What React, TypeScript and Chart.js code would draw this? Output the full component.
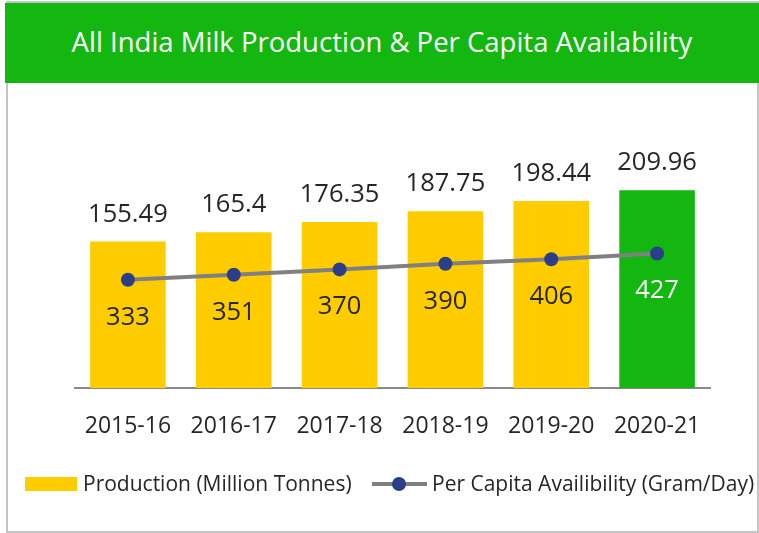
import React, { useEffect, useRef } from "react";
import { Chart, registerables } from "chart.js";

Chart.register(...registerables);

const categories = ["2015-16", "2016-17", "2017-18", "2018-19", "2019-20", "2020-21"];
const production = [155.49, 165.4, 176.35, 187.75, 198.44, 209.96];
const perCapita = [333, 351, 370, 390, 406, 427];
const barColors = ["#ffcc00", "#ffcc00", "#ffcc00", "#ffcc00", "#ffcc00", "#13b710"];
const perCapitaLabelColors = ["#262626", "#262626", "#262626", "#262626", "#262626", "#ffffff"];

const TITLE = "All India Milk Production & Per Capita Availability";
const LEGEND_BAR = "Production (Million Tonnes)";
const LEGEND_LINE = "Per Capita Availibility (Gram/Day)";

const FONT = "'Open Sans', 'Noto Sans', sans-serif";

const labelPlugin = {
  id: "valueLabels",
  afterDatasetsDraw(chart: any) {
    const ctx = chart.ctx;
    ctx.save();
    ctx.textAlign = "center";
    ctx.textBaseline = "alphabetic";
    ctx.font = `25.5px ${FONT}`;
    const barMeta = chart.getDatasetMeta(0);
    barMeta.data.forEach((el: any, i: number) => {
      ctx.fillStyle = "#262626";
      ctx.fillText(String(production[i]), el.x, el.y - 20);
    });
    const lineMeta = chart.getDatasetMeta(1);
    lineMeta.data.forEach((el: any, i: number) => {
      ctx.fillStyle = perCapitaLabelColors[i];
      ctx.fillText(String(perCapita[i]), el.x, el.y + 45);
    });
    ctx.restore();
  },
};

export default function App() {
  const ref = useRef<HTMLCanvasElement | null>(null);

  useEffect(() => {
    if (!ref.current) return;
    const chart = new Chart(ref.current, {
      type: "bar",
      data: {
        labels: categories,
        datasets: [
          {
            type: "bar",
            label: LEGEND_BAR,
            data: production,
            backgroundColor: barColors,
            borderWidth: 0,
            barPercentage: 0.714,
            categoryPercentage: 1,
            yAxisID: "y",
            order: 2,
          },
          {
            type: "line",
            label: LEGEND_LINE,
            data: perCapita,
            borderColor: "#808080",
            borderWidth: 4,
            pointRadius: 7,
            pointHoverRadius: 7,
            pointBackgroundColor: "#2a3f87",
            pointBorderWidth: 0,
            fill: false,
            tension: 0,
            yAxisID: "y1",
            order: 1,
          } as any,
        ],
      },
      options: {
        responsive: false,
        animation: false,
        devicePixelRatio: 1,
        layout: { padding: { left: 75, right: 49, top: 152.5, bottom: 95 } },
        plugins: {
          legend: { display: false },
          title: { display: false },
          tooltip: { enabled: false },
        },
        scales: {
          x: {
            offset: true,
            grid: { display: false },
            border: { display: true, color: "#898989", width: 2 },
            ticks: {
              color: "#262626",
              font: { family: FONT, size: 23 },
              padding: 17,
              maxRotation: 0,
            },
            afterFit: (s: any) => {
              s.height = 50;
            },
          },
          y: { display: false, min: 0, max: 250 },
          y1: { display: false, min: -53, max: 787 },
        },
      },
      plugins: [labelPlugin],
    });
    return () => chart.destroy();
  }, []);

  const textBase: React.CSSProperties = {
    position: "absolute",
    whiteSpace: "nowrap",
    fontFamily: FONT,
    color: "#262626",
  };

  return (
    <div
      style={{
        position: "absolute",
        left: 0,
        top: 0,
        width: 759,
        height: 533,
        background: "#ffffff",
        overflow: "hidden",
      }}
    >
      <div
        style={{
          position: "absolute",
          left: 6,
          top: 1,
          width: 753,
          height: 532,
          border: "2px solid #c4c4c4",
          boxSizing: "border-box",
        }}
      />
      <div
        style={{
          position: "absolute",
          left: 5,
          top: 3,
          width: 754,
          height: 80,
          background: "#13b710",
          color: "#ffffff",
          fontFamily: FONT,
          fontSize: 27.5,
          lineHeight: "78px",
          textAlign: "center",
          whiteSpace: "nowrap",
        }}
      >
        {TITLE}
      </div>
      <canvas
        ref={ref}
        width={759}
        height={533}
        style={{ position: "absolute", left: 0, top: 0, width: 759, height: 533 }}
      />
      <div style={{ position: "absolute", left: 25, top: 477, width: 52, height: 14, background: "#ffcc00" }} />
      <span style={{ ...textBase, left: 83, top: 473, fontSize: 21, lineHeight: "21px" }}>{LEGEND_BAR}</span>
      <div style={{ position: "absolute", left: 372, top: 482, width: 55, height: 4, background: "#808080" }} />
      <div
        style={{
          position: "absolute",
          left: 392,
          top: 477,
          width: 14,
          height: 14,
          borderRadius: 7,
          background: "#2a3f87",
        }}
      />
      <span style={{ ...textBase, left: 432, top: 473, fontSize: 21, lineHeight: "21px" }}>{LEGEND_LINE}</span>
    </div>
  );
}
